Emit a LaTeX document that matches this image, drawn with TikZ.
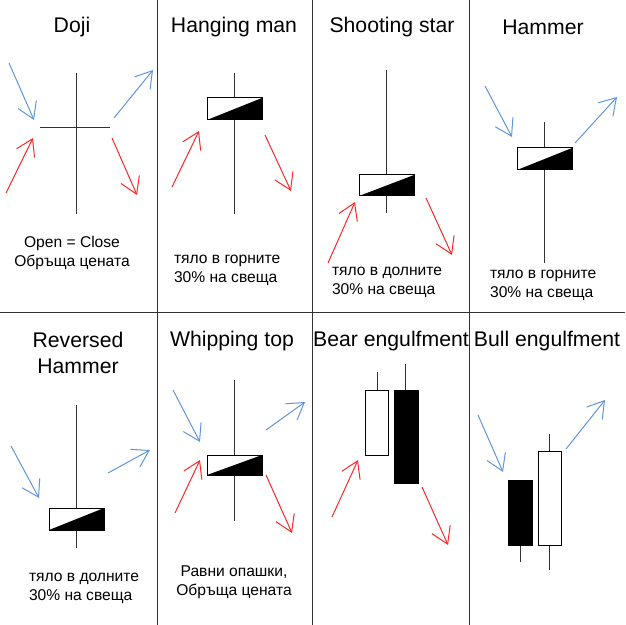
\documentclass[tikz,border=0pt]{standalone}
\usepackage{fontspec}
\setmainfont{Liberation Sans}
\usetikzlibrary{arrows.meta}
\definecolor{upblue}{RGB}{95,150,220}
\definecolor{dnred}{RGB}{250,40,40}
\begin{document}
\begin{tikzpicture}[x=0.5pt, y=-0.5pt,
  grid/.style={black!80, line width=0.5pt},
  wick/.style={black!80, line width=0.5pt},
  body/.style={draw=black, line width=0.5pt, fill=white},
  upArr/.style={upblue, line width=0.5pt, -{Straight Barb[length=8pt,width=10pt]}},
  redArr/.style={dnred, line width=0.5pt, -{Straight Barb[length=8pt,width=10pt]}},
  title/.style={font=\fontsize{10.6}{13}\selectfont},
  note/.style={font=\fontsize{7.8}{9.6}\selectfont, align=left, anchor=west},
  cnote/.style={font=\fontsize{7.8}{9.6}\selectfont, align=center}]
  \useasboundingbox (0,0) rectangle (625,625);
  % Grid
  \foreach \x in {157,312,469} \draw[grid] (\x,0) -- (\x,625);
  \draw[grid] (0,312) -- (625,312);
  % Titles
  \node[title] (tDoji) at (72,27) {Doji};
  \node[title] (tHang) at (234,27) {Hanging man};
  \node[title] (tShoot) at (392,27) {Shooting star};
  \node[title] (tHam) at (543,27) {Hammer};
  \node[title, align=center] (tRev) at (78,353) {Reversed\\Hammer};
  \node[title] (tWhip) at (232,341) {Whipping top};
  \node[title] (tBear) at (391,341) {Bear engulfment};
  \node[title] (tBull) at (547,341) {Bull engulfment};
  % Doji
  \draw[wick] (76,73) -- (76,214);
  \draw[wick] (40,128) -- (110,128);
  \draw[upArr] (9,63) -- (34,120);
  \draw[redArr] (6,193) -- (33,138);
  \draw[upArr] (114,118) -- (153,70);
  \draw[redArr] (112,138) -- (137,195);
  \node[cnote] (nDoji) at (72,253) {Open = Close\\Обръща цената};
  % Hanging man
  \draw[wick] (234,73) -- (234,214);
  \draw[body] (207,98) rectangle (262,120);
  \fill (207,120) -- (262,98) -- (262,120) -- cycle;
  \draw[redArr] (172,187) -- (199,131);
  \draw[redArr] (265,135) -- (291,191);
  \node[note] (nHang) at (167,270) {тяло в горните\\30\% на свеща};
  % Shooting star
  \draw[wick] (386,70) -- (386,213);
  \draw[body] (359,175) rectangle (414,196);
  \fill (359,196) -- (414,175) -- (414,196) -- cycle;
  \draw[redArr] (328,263) -- (355,202);
  \draw[redArr] (426,198) -- (452,255);
  \node[note] (nShoot) at (325,282) {тяло в долните\\30\% на свеща};
  % Hammer
  \draw[wick] (544,122) -- (544,263);
  \draw[body] (517,148) rectangle (572,170);
  \fill (517,170) -- (572,148) -- (572,170) -- cycle;
  \draw[upArr] (485,86) -- (512,137);
  \draw[upArr] (575,143) -- (617,97);
  \node[note] (nHam) at (483,285) {тяло в горните\\30\% на свеща};
  % Reversed hammer
  \draw[wick] (76,405) -- (76,548);
  \draw[body] (49,508) rectangle (104,530);
  \fill (49,530) -- (104,508) -- (104,530) -- cycle;
  \draw[upArr] (11,446) -- (39,498);
  \draw[upArr] (108,473) -- (150,450);
  \node[note] (nRev) at (22,588) {тяло в долните\\30\% на свеща};
  % Whipping top
  \draw[wick] (234,380) -- (234,521);
  \draw[body] (207,455) rectangle (262,475);
  \fill (207,475) -- (262,455) -- (262,475) -- cycle;
  \draw[upArr] (173,390) -- (200,442);
  \draw[upArr] (266,430) -- (305,402);
  \draw[redArr] (175,513) -- (200,460);
  \draw[redArr] (266,475) -- (292,533);
  \node[cnote] (nWhip) at (234,582) {Равни опашки,\\Обръща цената};
  % Bear engulfment
  \draw[wick] (377,372) -- (377,390);
  \draw[body] (365,390) rectangle (388,455);
  \draw[wick] (405,364) -- (405,390);
  \draw[body, fill=black] (394,390) rectangle (418,483);
  \draw[redArr] (332,517) -- (358,460);
  \draw[redArr] (422,487) -- (448,545);
  % Bull engulfment
  \draw[wick] (520,545) -- (520,562);
  \draw[body, fill=black] (508,480) rectangle (532,545);
  \draw[wick] (549,434) -- (549,570);
  \draw[body] (538,451) rectangle (561,545);
  \draw[upArr] (478,415) -- (503,472);
  \draw[upArr] (566,449) -- (605,400);
\end{tikzpicture}
\end{document}
